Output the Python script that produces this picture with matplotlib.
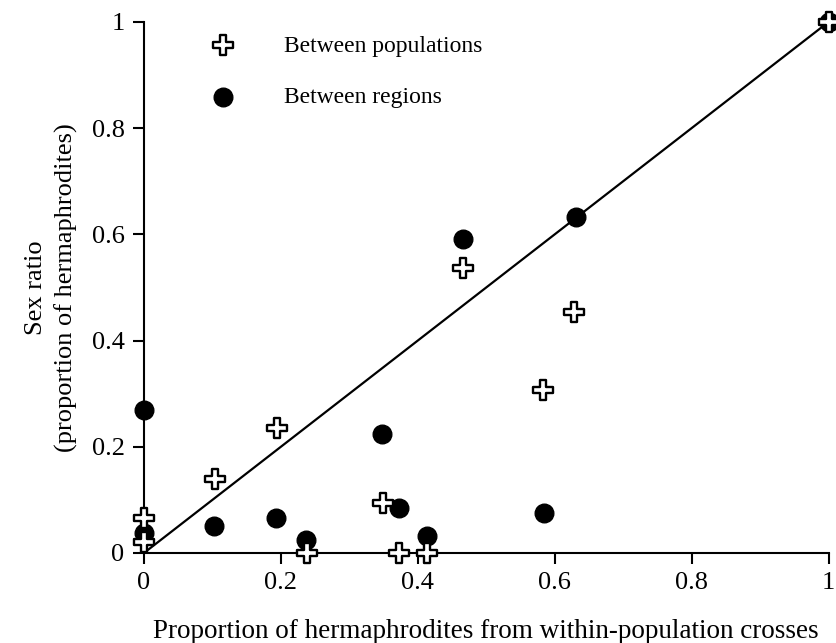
import matplotlib.pyplot as plt
import numpy as np

plt.rcParams['font.family'] = ['Liberation Serif', 'DejaVu Serif']

# Between populations (crosses)
pop_x = [0.0, 0.0, 0.104, 0.194, 0.238, 0.349, 0.372, 0.413, 0.466, 0.583, 0.628, 1.0]
pop_y = [0.066, 0.02, 0.139, 0.235, 0.0, 0.094, 0.0, 0.0, 0.537, 0.307, 0.454, 1.0]

# Between regions (filled circles)
reg_x = [0.0, 0.0, 0.102, 0.193, 0.236, 0.347, 0.372, 0.413, 0.466, 0.585, 0.631, 1.0]
reg_y = [0.269, 0.037, 0.051, 0.066, 0.024, 0.224, 0.085, 0.032, 0.591, 0.075, 0.633, 1.0]

ticks = [0, 0.2, 0.4, 0.6, 0.8, 1]
tick_labels = ['0', '0.2', '0.4', '0.6', '0.8', '1']

fig = plt.figure(figsize=(8.37, 6.43), dpi=100)
ax = fig.add_axes([0.172, 0.140, 0.818, 0.826])

# 1:1 line
ax.plot([0, 1], [0, 1], color='black', linewidth=1.6, zorder=1)

ax.scatter(reg_x, reg_y, s=180, marker='o', color='black', clip_on=False,
           zorder=3, label='Between regions')
ax.scatter(pop_x, pop_y, s=210, marker='P', facecolor='white', edgecolor='black',
           linewidth=1.7, clip_on=False, zorder=4, label='Between populations')

ax.set_xlim(0, 1)
ax.set_ylim(0, 1)
ax.set_xticks(ticks)
ax.set_xticklabels(tick_labels)
ax.set_yticks(ticks)
ax.set_yticklabels(tick_labels)

for s in ['top', 'right']:
    ax.spines[s].set_visible(False)
for s in ['left', 'bottom']:
    ax.spines[s].set_linewidth(1.5)
ax.tick_params(direction='out', length=8, width=1.5, labelsize=19, pad=6)

ax.set_xlabel('Proportion of hermaphrodites from within-population crosses',
              fontsize=19.5, labelpad=18)
ax.set_ylabel('Sex ratio\n(proportion of hermaphrodites)', fontsize=19,
              labelpad=10, linespacing=1.4)

handles, labels = ax.get_legend_handles_labels()
ax.legend(handles[::-1], labels[::-1], loc='upper left', bbox_to_anchor=(0.05, 1.015),
          frameon=False, fontsize=17, handletextpad=1.6, labelspacing=1.25,
          scatterpoints=1)

fig.savefig('out.png', dpi=100)
